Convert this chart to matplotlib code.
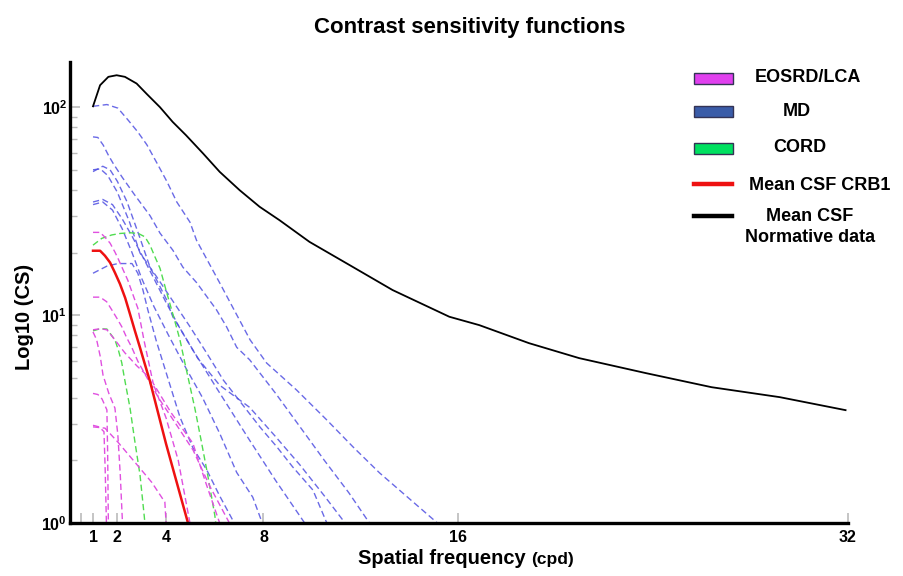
import matplotlib
matplotlib.use("Agg")
import matplotlib.pyplot as plt
from matplotlib.patches import Rectangle
from matplotlib.lines import Line2D

plt.rcParams['font.family'] = ['Liberation Sans', 'DejaVu Sans']
plt.rcParams['font.weight'] = 'bold'
plt.rcParams['mathtext.fontset'] = 'custom'
plt.rcParams['mathtext.rm'] = 'Liberation Sans:bold'
plt.rcParams['mathtext.bf'] = 'Liberation Sans:bold'
plt.rcParams['mathtext.it'] = 'Liberation Sans:bold'

# ---------------- data ----------------
x_ticks = [1, 2, 4, 8, 16, 32]
x_tick_labels = ["1", "2", "4", "8", "16", "32"]
y_ticks = [1, 10, 100]
y_tick_labels = [r"$10^{0}$", r"$10^{1}$", r"$10^{2}$"]

# Mean CSF normative data
norm_x = [1, 1.29, 1.63, 1.97, 2.31, 2.79, 3.2, 3.75, 4.27, 4.82, 5.52, 6.2, 7.02, 7.84,
          8.66, 9.89, 11.5, 13.3, 15.63, 16.86, 18.9, 20.96, 23.7, 26.4, 29.2, 31.9]
norm_y = [101, 127.6, 140, 142.5, 140, 130, 116, 100, 85, 73.3, 59.9, 48.9, 39.9, 33.2,
          28.6, 22.5, 17.5, 13.2, 9.82, 8.95, 7.33, 6.21, 5.26, 4.5, 4.03, 3.49]

# Mean CSF CRB1
crb1_x = [1, 1.29, 1.49, 1.70, 1.90, 2.11, 2.32, 2.52, 2.72, 2.93, 3.13, 3.34, 4.0, 4.9]
crb1_y = [20.4, 20.4, 19.3, 17.9, 16.0, 14.1, 12.1, 10.1, 8.4, 6.97, 5.8, 4.8, 2.4, 1.0]

# MD (individual patients)
md1_x = [1, 1.57, 2.02, 2.43, 2.84, 3.21, 3.62, 4.03, 4.44, 4.98, 5.25, 6.2, 7.45, 8.13, 9.36, 10.6, 11.68, 12.77, 15.14]
md1_y = [101, 103, 99, 87, 76, 66, 54, 44, 35, 28, 22.9, 14.3, 7.6, 5.88, 4.36, 3.13, 2.32, 1.74, 1]
md2_x = [1, 1.2, 1.42, 1.63, 1.83, 2.2, 2.7, 3.34, 3.75, 4.28, 4.69, 5.26, 6.07, 6.48, 6.9, 7.43, 8.5, 9.5, 10.5, 11.5, 12.35]
md2_y = [72, 71.5, 65.7, 58.8, 53.6, 46, 38, 30.1, 24.8, 20.5, 17.0, 14.3, 10.6, 8.8, 7.0, 6.1, 4.2, 2.9, 2.0, 1.4, 1]
md3_x = [1, 1.3, 1.6, 2.0, 2.5, 2.93, 3.61, 4.98, 5.67, 6.35, 7.86, 8.54, 9.2, 10.03, 10.6]
md3_y = [50, 50.5, 47, 39, 28, 19.9, 15.3, 8.8, 6.56, 4.87, 2.89, 2.33, 1.86, 1.44, 1]
md4_x = [1, 1.4, 1.7, 2.0, 2.4, 2.9, 3.34, 3.62, 4.03, 4.28, 4.69, 5.1, 6.0, 7.43, 8.5, 9.69]
md4_y = [49, 52, 50, 44, 35, 24, 17.0, 14.7, 11.8, 9.8, 8.2, 6.8, 4.6, 2.5, 1.6, 1]
md5_x = [1, 1.4, 1.8, 2.2, 2.6, 3.0, 3.5, 4.0, 4.6, 5.3, 6.2, 7.43, 8.5, 9.5, 10.5, 11.35]
md5_y = [35, 36, 34, 29, 24, 19.5, 15, 11.5, 8.5, 6.2, 4.6, 3.6, 2.6, 1.9, 1.35, 1]
md6_x = [1, 1.4, 1.8, 2.2, 2.6, 3.0, 3.5, 4.1, 4.8, 5.5, 6.2, 6.9, 7.56, 7.95]
md6_y = [34, 35, 32, 26, 20, 15, 11, 8, 5.6, 4.0, 2.7, 1.75, 1.33, 1]
md7_x = [1, 1.57, 2.02, 2.6, 2.84, 3.05, 3.25, 3.6, 4.0, 4.57, 5.1, 5.67, 6.2, 6.8]
md7_y = [15.9, 17.2, 17.7, 17.7, 15.9, 13.2, 10.6, 7.5, 5.3, 3.23, 2.3, 1.8, 1.35, 1]

# EOSRD/LCA (individual patients)
eo1_x = [1, 1.29, 1.49, 1.70, 1.9, 2.02, 2.43, 2.72, 2.84, 3.1, 3.47, 4.2, 5.1, 5.6, 6.2]
eo1_y = [25, 25, 23.7, 22.2, 20.1, 18.8, 14.7, 11.8, 10.8, 7.5, 4.7, 3.4, 2.42, 1.6, 1]
eo2_x = [1, 1.29, 1.56, 1.77, 1.97, 2.18, 2.38, 2.59, 2.84, 3.3, 3.75, 4.4, 5.11, 5.8, 6.6]
eo2_y = [12.2, 12.2, 11.6, 10.6, 9.7, 8.8, 7.8, 7.0, 6.0, 4.8, 3.9, 3.0, 2.24, 1.5, 1]
eo3_x = [1, 1.3, 1.57, 1.9, 2.3, 2.8, 3.2, 3.54, 4.0, 4.5, 4.98]
eo3_y = [8.5, 8.6, 8.5, 7.6, 6.6, 5.7, 5.15, 4.46, 3.2, 2.0, 1]
eo4_x = [1, 1.15, 1.3, 1.41, 1.65, 1.9, 2.02, 2.12, 2.21]
eo4_y = [8.3, 7.6, 6.3, 5.15, 4.2, 3.57, 2.65, 1.7, 1]
eo5_x = [1, 1.2, 1.37, 1.57, 1.6, 1.63]
eo5_y = [4.2, 4.15, 3.95, 3.5, 2.2, 1]
eo6_x = [1, 1.25, 1.45, 1.5, 1.55]
eo6_y = [2.95, 2.9, 2.75, 1.8, 1]
eo7_x = [1, 1.49, 2.02, 2.72, 3.41, 3.95, 4.0]
eo7_y = [2.9, 2.86, 2.45, 1.96, 1.57, 1.26, 1]

# CORD (individual patients)
cord1_x = [1, 1.36, 1.77, 2.11, 2.52, 2.86, 3.13, 3.34, 3.54, 3.75, 4.02, 4.29, 4.57, 4.77, 5.18, 5.45, 5.71, 6.0, 6.04]
cord1_y = [21.7, 23.4, 24.3, 24.7, 24.9, 24.7, 23.8, 21.7, 19.1, 16.8, 12.9, 10.0, 7.6, 5.9, 3.57, 2.46, 1.70, 1.09, 1]
cord2_x = [1, 1.3, 1.57, 1.9, 2.04, 2.18, 2.28, 2.52, 2.72, 2.93, 3.1, 3.13]
cord2_y = [8.4, 8.6, 8.57, 7.6, 6.8, 5.9, 5.05, 3.57, 2.46, 1.70, 1.09, 1]

legend_labels = ["EOSRD/LCA", "MD", "CORD", "Mean CSF CRB1", "Mean CSF\nNormative data"]

# ---------------- styles ----------------
W, H = 904, 576
c_md = "#5050e2"
c_eo = "#e050e0"
c_cord = "#50dc50"
dash = (4.5, 2.5)

fig = plt.figure(figsize=(W / 100, H / 100), dpi=100)
ax = fig.add_axes([70 / W, 1 - 523 / H, (848 - 70) / W, (523 - 62) / H])
ax.set_yscale("log")

for xs, ys in [(md1_x, md1_y), (md2_x, md2_y), (md3_x, md3_y), (md4_x, md4_y),
               (md5_x, md5_y), (md6_x, md6_y), (md7_x, md7_y)]:
    ax.plot(xs, ys, color=c_md, lw=1.0, dashes=dash, alpha=0.85)
for xs, ys in [(cord1_x, cord1_y), (cord2_x, cord2_y)]:
    ax.plot(xs, ys, color=c_cord, lw=1.0, dashes=dash)
for xs, ys in [(eo1_x, eo1_y), (eo2_x, eo2_y), (eo3_x, eo3_y), (eo4_x, eo4_y),
               (eo5_x, eo5_y), (eo6_x, eo6_y), (eo7_x, eo7_y)]:
    ax.plot(xs, ys, color=c_eo, lw=1.0, dashes=dash)
ax.plot(crb1_x, crb1_y, color="#ee1111", lw=1.8)
ax.plot(norm_x, norm_y, color="black", lw=1.3)

ax.set_xlim(0.055, 32)
ax.set_ylim(1, 165)

for s in ["top", "right"]:
    ax.spines[s].set_visible(False)
for s in ["left", "bottom"]:
    ax.spines[s].set_linewidth(2.4)

ax.set_xticks(x_ticks)
ax.set_xticklabels(x_tick_labels, fontsize=11.5, fontweight="bold")
ax.set_xticks([0.5], minor=True)
ax.tick_params(axis="x", which="both", direction="in", length=7, width=1.2,
               color="#bbbbbb", pad=5)
ax.set_yticks(y_ticks)
ax.set_yticklabels(y_tick_labels, fontsize=11.5)
ax.tick_params(axis="y", which="major", direction="in", length=7, width=1.2,
               color="#bbbbbb", pad=2)
ax.tick_params(axis="y", which="minor", direction="in", length=5, width=1.0,
               color="#bbbbbb")
ax.yaxis.set_minor_formatter(matplotlib.ticker.NullFormatter())

fig.text(470 / W, 1 - 27 / H, "Contrast sensitivity functions", ha="center", va="center",
         fontsize=16, fontweight="bold")
fig.text(25 / W, 1 - 317 / H, "Log10 (CS)", ha="center", va="center", rotation=90,
         fontsize=14.5, fontweight="bold")
fig.text(526 / W, 1 - 564 / H, "Spatial frequency", ha="right", va="baseline",
         fontsize=14.5, fontweight="bold")
fig.text(531 / W, 1 - 564 / H, "(cpd)", ha="left", va="baseline",
         fontsize=12.5, fontweight="bold")

# legend (drawn manually to mimic centred layout)
patch_cols = ["#e040ee", "#3a5ca8", "#00e060"]
patch_y = [78.5, 111, 148]
for col, py in zip(patch_cols, patch_y):
    fig.patches.append(Rectangle((694 / W, 1 - (py + 5.5) / H), 39 / W, 11 / H,
                                 transform=fig.transFigure, facecolor=col,
                                 edgecolor="#333355", lw=1.0))
fig.lines.append(Line2D([694 / W, 732 / W], [1 - 184 / H, 1 - 184 / H],
                        transform=fig.transFigure, color="#ee1111", lw=3.2))
fig.lines.append(Line2D([694 / W, 732 / W], [1 - 216 / H, 1 - 216 / H],
                        transform=fig.transFigure, color="black", lw=3.2))
text_pos = [(808, 78), (797, 112), (800, 148), (820, 185), (810, 227)]
for (tx, ty), lab in zip(text_pos, legend_labels):
    fig.text(tx / W, 1 - ty / H, lab, ha="center", va="center", fontsize=13,
             fontweight="bold", linespacing=1.3)

fig.savefig("out.png", dpi=100)
